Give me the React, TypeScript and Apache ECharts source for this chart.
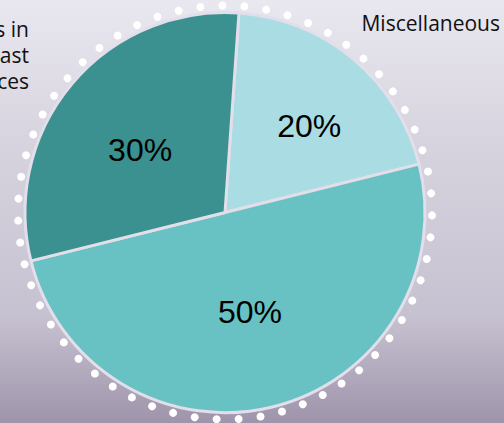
import React, { useEffect, useRef } from "react";
import * as echarts from "echarts";

const categories = ["Miscellaneous", "Other", "Past prices"];
const values = [20, 50, 30];
const sliceColors = ["#a9dce3", "#68c2c3", "#3a918f"];
const leftLabelLines = ["s in", "past", "ces"];
const rightLabel = "Miscellaneous";

export default function App() {
  const ref = useRef<HTMLDivElement>(null);
  useEffect(() => {
    if (!ref.current) return;
    const chart = echarts.init(ref.current, undefined, { renderer: "svg" });
    const cx = 225;
    const cy = 212.5;
    const dotR = 207;
    const dotCount = 59;
    const dots: any[] = [];
    for (let k = 0; k < dotCount; k++) {
      const a = ((0.8 + (k * 360) / dotCount) * Math.PI) / 180;
      dots.push({
        type: "circle",
        shape: { cx: cx + dotR * Math.cos(a), cy: cy + dotR * Math.sin(a), r: 4 },
        style: { fill: "#ffffff" },
        silent: true,
        z: 0,
      });
    }
    const labelOffsets: Record<number, number[]> = { 0: [18, -8], 2: [-6, 4] };
    chart.setOption({
      animation: false,
      backgroundColor: {
        type: "linear",
        x: 0,
        y: 0,
        x2: 0,
        y2: 1,
        colorStops: [
          { offset: 0, color: "#e9e7ef" },
          { offset: 0.35, color: "#d6d3de" },
          { offset: 0.75, color: "#c6c1d0" },
          { offset: 1, color: "#9f94ab" },
        ],
      },
      graphic: [
        ...dots,
        {
          type: "text",
          x: 29,
          y: 55,
          style: {
            text: leftLabelLines.join("\n"),
            align: "right",
            verticalAlign: "middle",
            font: '21px "Open Sans"',
            lineHeight: 26,
            fill: "#111111",
          },
          z: 5,
        },
        {
          type: "text",
          x: 500,
          y: 23,
          style: {
            text: rightLabel,
            align: "right",
            verticalAlign: "middle",
            font: '21px "Open Sans"',
            fill: "#111111",
          },
          z: 5,
        },
      ],
      series: [
        {
          type: "pie",
          center: [cx, cy],
          radius: [0, 200],
          startAngle: 86,
          clockwise: true,
          label: {
            show: true,
            position: "inside",
            formatter: "{c}%",
            color: "#000000",
            fontFamily: "Liberation Sans",
            fontSize: 32,
          },
          labelLine: { show: false },
          itemStyle: { borderColor: "#e2deea", borderWidth: 3 },
          emphasis: { disabled: true },
          data: categories.map((name, i) => ({
            name,
            value: values[i],
            itemStyle: { color: sliceColors[i] },
            label: labelOffsets[i] ? { offset: labelOffsets[i] } : undefined,
          })),
          z: 2,
        },
      ],
    });
    return () => chart.dispose();
  }, []);
  return (
    <div
      ref={ref}
      style={{ position: "fixed", left: 0, top: 0, width: 504, height: 423 }}
    />
  );
}
